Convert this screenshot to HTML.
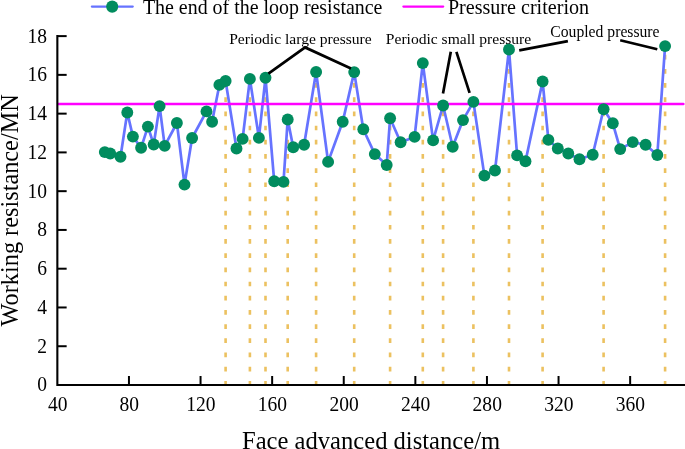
<!DOCTYPE html><html><head><meta charset="utf-8"><style>html,body{margin:0;padding:0;background:#fff}svg{display:block;opacity:0.999;will-change:opacity}text{font-family:"Liberation Serif",serif;fill:#000}</style></head><body>
<svg width="685" height="449" viewBox="0 0 685 449">
<line x1="225.6" y1="385.6" x2="225.6" y2="81.0" stroke="#ECC160" stroke-width="2.6" stroke-dasharray="4.7 9.48"/>
<line x1="249.9" y1="385.6" x2="249.9" y2="78.9" stroke="#ECC160" stroke-width="2.6" stroke-dasharray="4.7 9.48"/>
<line x1="265.5" y1="385.6" x2="265.5" y2="77.7" stroke="#ECC160" stroke-width="2.6" stroke-dasharray="4.7 9.48"/>
<line x1="287.7" y1="385.6" x2="287.7" y2="119.5" stroke="#ECC160" stroke-width="2.6" stroke-dasharray="4.7 9.48"/>
<line x1="316.1" y1="385.6" x2="316.1" y2="72.0" stroke="#ECC160" stroke-width="2.6" stroke-dasharray="4.7 9.48"/>
<line x1="354.2" y1="385.6" x2="354.2" y2="72.1" stroke="#ECC160" stroke-width="2.6" stroke-dasharray="4.7 9.48"/>
<line x1="390.1" y1="385.6" x2="390.1" y2="118.3" stroke="#ECC160" stroke-width="2.6" stroke-dasharray="4.7 9.48"/>
<line x1="422.8" y1="385.6" x2="422.8" y2="63.1" stroke="#ECC160" stroke-width="2.6" stroke-dasharray="4.7 9.48"/>
<line x1="443.1" y1="385.6" x2="443.1" y2="105.5" stroke="#ECC160" stroke-width="2.6" stroke-dasharray="4.7 9.48"/>
<line x1="473.4" y1="385.6" x2="473.4" y2="101.9" stroke="#ECC160" stroke-width="2.6" stroke-dasharray="4.7 9.48"/>
<line x1="509" y1="385.6" x2="509" y2="49.5" stroke="#ECC160" stroke-width="2.6" stroke-dasharray="4.7 9.48"/>
<line x1="542.6" y1="385.6" x2="542.6" y2="81.5" stroke="#ECC160" stroke-width="2.6" stroke-dasharray="4.7 9.48"/>
<line x1="603.6" y1="385.6" x2="603.6" y2="109.2" stroke="#ECC160" stroke-width="2.6" stroke-dasharray="4.7 9.48"/>
<line x1="665.1" y1="385.6" x2="665.1" y2="46.1" stroke="#ECC160" stroke-width="2.6" stroke-dasharray="4.7 9.48"/>
<path d="M104.8 152.1 L110.2 153.5 L120.5 156.8 L127.3 112.5 L132.9 136.6 L141.1 147.8 L147.9 126.6 L153.7 144.5 L159.6 106.1 L164.7 145.9 L176.9 123.0 L184.5 184.6 L192.1 138.0 L206.5 111.4 L212.1 121.7 L219.4 84.9 L225.6 81.0 L236.5 148.5 L242.6 138.9 L249.9 78.9 L258.9 137.9 L265.5 77.7 L274.2 181.2 L283.5 181.9 L287.7 119.5 L293.2 147.3 L304.1 144.8 L316.1 72.0 L328.1 161.9 L342.7 121.7 L354.2 72.1 L363.3 129.2 L374.8 154.1 L386.7 165.0 L390.1 118.3 L400.6 142.3 L414.6 136.9 L422.8 63.1 L433.1 140.4 L443.1 105.5 L452.7 146.8 L463 120.1 L473.4 101.9 L484.4 175.6 L495 170.5 L509 49.5 L517.1 155.4 L525.5 161.3 L542.6 81.5 L548.4 139.9 L557.8 148.5 L568.3 153.5 L579.5 159.3 L592.7 154.8 L603.6 109.2 L612.8 123.3 L620.2 149.1 L632.7 142.1 L645.6 144.8 L657.3 155.0 L665.1 46.1" fill="none" stroke="#6673FF" stroke-width="2.7" stroke-linejoin="round"/>
<line x1="58.35" y1="103.95" x2="683.4" y2="103.95" stroke="#FF00FF" stroke-width="2.4" stroke-linecap="round"/>
<path d="M57.35 35.050000000000004 V385.0 H685" fill="none" stroke="#000" stroke-width="2.1"/>
<text transform="translate(47.1 391.45) scale(0.93 1)" font-size="21" text-anchor="end">0</text>
<line x1="57.35" y1="346.23" x2="66.65" y2="346.23" stroke="#000" stroke-width="2"/>
<text transform="translate(47.1 352.68) scale(0.93 1)" font-size="21" text-anchor="end">2</text>
<line x1="57.35" y1="307.47" x2="66.65" y2="307.47" stroke="#000" stroke-width="2"/>
<text transform="translate(47.1 313.92) scale(0.93 1)" font-size="21" text-anchor="end">4</text>
<line x1="57.35" y1="268.70" x2="66.65" y2="268.70" stroke="#000" stroke-width="2"/>
<text transform="translate(47.1 275.15) scale(0.93 1)" font-size="21" text-anchor="end">6</text>
<line x1="57.35" y1="229.94" x2="66.65" y2="229.94" stroke="#000" stroke-width="2"/>
<text transform="translate(47.1 236.39) scale(0.93 1)" font-size="21" text-anchor="end">8</text>
<line x1="57.35" y1="191.17" x2="66.65" y2="191.17" stroke="#000" stroke-width="2"/>
<text transform="translate(47.1 197.62) scale(0.93 1)" font-size="21" text-anchor="end">10</text>
<line x1="57.35" y1="152.40" x2="66.65" y2="152.40" stroke="#000" stroke-width="2"/>
<text transform="translate(47.1 158.85) scale(0.93 1)" font-size="21" text-anchor="end">12</text>
<line x1="57.35" y1="113.64" x2="66.65" y2="113.64" stroke="#000" stroke-width="2"/>
<text transform="translate(47.1 120.09) scale(0.93 1)" font-size="21" text-anchor="end">14</text>
<line x1="57.35" y1="74.87" x2="66.65" y2="74.87" stroke="#000" stroke-width="2"/>
<text transform="translate(47.1 81.32) scale(0.93 1)" font-size="21" text-anchor="end">16</text>
<line x1="57.35" y1="36.11" x2="66.65" y2="36.11" stroke="#000" stroke-width="2"/>
<text transform="translate(47.1 42.56) scale(0.93 1)" font-size="21" text-anchor="end">18</text>
<text transform="translate(57.65 411.1) scale(0.93 1)" font-size="21" text-anchor="middle">40</text>
<line x1="128.95" y1="385.0" x2="128.95" y2="376.0" stroke="#000" stroke-width="2"/>
<text transform="translate(129.25 411.1) scale(0.93 1)" font-size="21" text-anchor="middle">80</text>
<line x1="200.55" y1="385.0" x2="200.55" y2="376.0" stroke="#000" stroke-width="2"/>
<text transform="translate(200.85 411.1) scale(0.93 1)" font-size="21" text-anchor="middle">120</text>
<line x1="272.15" y1="385.0" x2="272.15" y2="376.0" stroke="#000" stroke-width="2"/>
<text transform="translate(272.45 411.1) scale(0.93 1)" font-size="21" text-anchor="middle">160</text>
<line x1="343.75" y1="385.0" x2="343.75" y2="376.0" stroke="#000" stroke-width="2"/>
<text transform="translate(344.05 411.1) scale(0.93 1)" font-size="21" text-anchor="middle">200</text>
<line x1="415.35" y1="385.0" x2="415.35" y2="376.0" stroke="#000" stroke-width="2"/>
<text transform="translate(415.65 411.1) scale(0.93 1)" font-size="21" text-anchor="middle">240</text>
<line x1="486.95" y1="385.0" x2="486.95" y2="376.0" stroke="#000" stroke-width="2"/>
<text transform="translate(487.25 411.1) scale(0.93 1)" font-size="21" text-anchor="middle">280</text>
<line x1="558.55" y1="385.0" x2="558.55" y2="376.0" stroke="#000" stroke-width="2"/>
<text transform="translate(558.85 411.1) scale(0.93 1)" font-size="21" text-anchor="middle">320</text>
<line x1="630.15" y1="385.0" x2="630.15" y2="376.0" stroke="#000" stroke-width="2"/>
<text transform="translate(630.45 411.1) scale(0.93 1)" font-size="21" text-anchor="middle">360</text>
<circle cx="104.8" cy="152.1" r="5.95" fill="#018C5E"/>
<circle cx="110.2" cy="153.5" r="5.95" fill="#018C5E"/>
<circle cx="120.5" cy="156.8" r="5.95" fill="#018C5E"/>
<circle cx="127.3" cy="112.5" r="5.95" fill="#018C5E"/>
<circle cx="132.9" cy="136.6" r="5.95" fill="#018C5E"/>
<circle cx="141.1" cy="147.8" r="5.95" fill="#018C5E"/>
<circle cx="147.9" cy="126.6" r="5.95" fill="#018C5E"/>
<circle cx="153.7" cy="144.5" r="5.95" fill="#018C5E"/>
<circle cx="159.6" cy="106.1" r="5.95" fill="#018C5E"/>
<circle cx="164.7" cy="145.9" r="5.95" fill="#018C5E"/>
<circle cx="176.9" cy="123.0" r="5.95" fill="#018C5E"/>
<circle cx="184.5" cy="184.6" r="5.95" fill="#018C5E"/>
<circle cx="192.1" cy="138.0" r="5.95" fill="#018C5E"/>
<circle cx="206.5" cy="111.4" r="5.95" fill="#018C5E"/>
<circle cx="212.1" cy="121.7" r="5.95" fill="#018C5E"/>
<circle cx="219.4" cy="84.9" r="5.95" fill="#018C5E"/>
<circle cx="225.6" cy="81.0" r="5.95" fill="#018C5E"/>
<circle cx="236.5" cy="148.5" r="5.95" fill="#018C5E"/>
<circle cx="242.6" cy="138.9" r="5.95" fill="#018C5E"/>
<circle cx="249.9" cy="78.9" r="5.95" fill="#018C5E"/>
<circle cx="258.9" cy="137.9" r="5.95" fill="#018C5E"/>
<circle cx="265.5" cy="77.7" r="5.95" fill="#018C5E"/>
<circle cx="274.2" cy="181.2" r="5.95" fill="#018C5E"/>
<circle cx="283.5" cy="181.9" r="5.95" fill="#018C5E"/>
<circle cx="287.7" cy="119.5" r="5.95" fill="#018C5E"/>
<circle cx="293.2" cy="147.3" r="5.95" fill="#018C5E"/>
<circle cx="304.1" cy="144.8" r="5.95" fill="#018C5E"/>
<circle cx="316.1" cy="72.0" r="5.95" fill="#018C5E"/>
<circle cx="328.1" cy="161.9" r="5.95" fill="#018C5E"/>
<circle cx="342.7" cy="121.7" r="5.95" fill="#018C5E"/>
<circle cx="354.2" cy="72.1" r="5.95" fill="#018C5E"/>
<circle cx="363.3" cy="129.2" r="5.95" fill="#018C5E"/>
<circle cx="374.8" cy="154.1" r="5.95" fill="#018C5E"/>
<circle cx="386.7" cy="165.0" r="5.95" fill="#018C5E"/>
<circle cx="390.1" cy="118.3" r="5.95" fill="#018C5E"/>
<circle cx="400.6" cy="142.3" r="5.95" fill="#018C5E"/>
<circle cx="414.6" cy="136.9" r="5.95" fill="#018C5E"/>
<circle cx="422.8" cy="63.1" r="5.95" fill="#018C5E"/>
<circle cx="433.1" cy="140.4" r="5.95" fill="#018C5E"/>
<circle cx="443.1" cy="105.5" r="5.95" fill="#018C5E"/>
<circle cx="452.7" cy="146.8" r="5.95" fill="#018C5E"/>
<circle cx="463" cy="120.1" r="5.95" fill="#018C5E"/>
<circle cx="473.4" cy="101.9" r="5.95" fill="#018C5E"/>
<circle cx="484.4" cy="175.6" r="5.95" fill="#018C5E"/>
<circle cx="495" cy="170.5" r="5.95" fill="#018C5E"/>
<circle cx="509" cy="49.5" r="5.95" fill="#018C5E"/>
<circle cx="517.1" cy="155.4" r="5.95" fill="#018C5E"/>
<circle cx="525.5" cy="161.3" r="5.95" fill="#018C5E"/>
<circle cx="542.6" cy="81.5" r="5.95" fill="#018C5E"/>
<circle cx="548.4" cy="139.9" r="5.95" fill="#018C5E"/>
<circle cx="557.8" cy="148.5" r="5.95" fill="#018C5E"/>
<circle cx="568.3" cy="153.5" r="5.95" fill="#018C5E"/>
<circle cx="579.5" cy="159.3" r="5.95" fill="#018C5E"/>
<circle cx="592.7" cy="154.8" r="5.95" fill="#018C5E"/>
<circle cx="603.6" cy="109.2" r="5.95" fill="#018C5E"/>
<circle cx="612.8" cy="123.3" r="5.95" fill="#018C5E"/>
<circle cx="620.2" cy="149.1" r="5.95" fill="#018C5E"/>
<circle cx="632.7" cy="142.1" r="5.95" fill="#018C5E"/>
<circle cx="645.6" cy="144.8" r="5.95" fill="#018C5E"/>
<circle cx="657.3" cy="155.0" r="5.95" fill="#018C5E"/>
<circle cx="665.1" cy="46.1" r="5.95" fill="#018C5E"/>
<path d="M268.4 73.6 L305.1 47.4 L351.0 68.4" fill="none" stroke="#000" stroke-width="2.7"/>
<path d="M443.0 93.4 L450.8 51.7 M456.4 51.8 L469.6 92.9" fill="none" stroke="#000" stroke-width="2.7"/>
<path d="M519.2 50.4 L567.9 41.1 M620.2 40.3 L657.3 49.3" fill="none" stroke="#000" stroke-width="2.7"/>
<text x="229.2" y="43.9" font-size="15.58">Periodic large pressure</text>
<text x="385.8" y="43.9" font-size="15.58">Periodic small pressure</text>
<text x="550.3" y="36.9" font-size="15.68">Coupled pressure</text>
<line x1="91.8" y1="6.6" x2="132.8" y2="6.6" stroke="#6673FF" stroke-width="2.1" stroke-linecap="round"/>
<circle cx="112.2" cy="6.6" r="6.05" fill="#018C5E"/>
<text x="142.9" y="13.9" font-size="19.93">The end of the loop resistance</text>
<line x1="403.4" y1="6.55" x2="443.2" y2="6.55" stroke="#FF00FF" stroke-width="2.3" stroke-linecap="round"/>
<text x="447.9" y="13.9" font-size="20.1">Pressure criterion</text>
<text x="242.0" y="449" font-size="24.6">Face advanced distance/m</text>
<text transform="translate(17.5 210.3) rotate(-90)" font-size="24.3" text-anchor="middle">Working resistance/MN</text>
</svg></body></html>
